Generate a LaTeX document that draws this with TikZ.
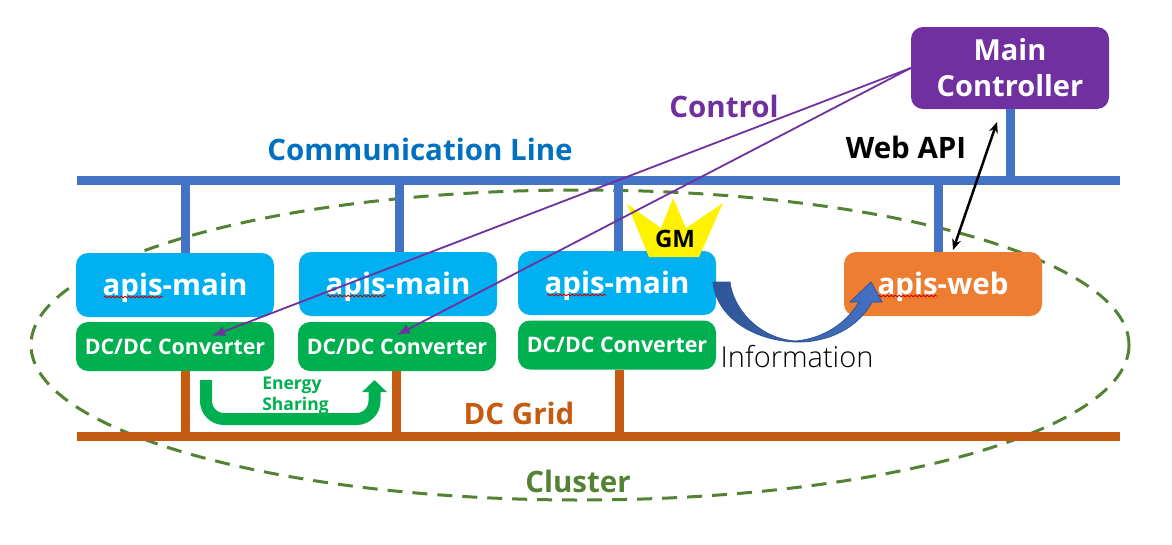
\documentclass[tikz,border=0pt]{standalone}
\usepackage{fontspec}
\setmainfont{Open Sans}
\newfontfamily\infofont{Open Sans Light}
\usetikzlibrary{arrows.meta,calc,decorations.pathmorphing}
\definecolor{figsky}{HTML}{00B0F0}
\definecolor{figgreen}{HTML}{00B050}
\definecolor{figorange}{HTML}{ED7D31}
\definecolor{figpurple}{HTML}{7030A0}
\definecolor{figblue}{HTML}{4472C4}
\definecolor{figlabel}{HTML}{0070C0}
\definecolor{figdark}{HTML}{2F5597}
\definecolor{figrust}{HTML}{C55A11}
\definecolor{figolive}{HTML}{548235}
\tikzset{
  box/.style={rounded corners=12pt,inner sep=0pt,align=center,text=white,font=\bfseries},
  hostbox/.style={box,minimum width=198pt,minimum height=64pt},
  convbox/.style={box,fill=figgreen,minimum width=198pt,minimum height=49pt,font=\fontsize{21.4}{24}\selectfont\bfseries},
  commline/.style={figblue,line width=9pt},
  gridline/.style={figrust,line width=9pt},
  ctrlline/.style={figpurple,line width=1.8pt,-{Latex[length=13pt,width=10pt]}},
  squiggle/.style={red!80!black,line width=.8pt,decorate,decoration={snake,amplitude=.9pt,segment length=4pt}},
  tag/.style={inner sep=0pt,font=\fontsize{29.5}{32}\selectfont\bfseries}
}
\begin{document}
\begin{tikzpicture}[x=1pt,y=-1pt]
    \useasboundingbox (0,0) rectangle (1172,544);
    \draw[figolive,line width=3pt,dash pattern=on 15pt off 10pt] (580,345) ellipse [x radius=549,y radius=155];
    % buses
    \coordinate (commL) at (77,180.5);
    \coordinate (commR) at (1120,180.5);
    \coordinate (gridL) at (77,436);
    \coordinate (gridR) at (1120,436);
    \draw[commline] (commL) -- (commR);
    \draw[gridline] (gridL) -- (gridR);
    % hosts
    \node[hostbox,fill=figsky] (main1) at (175,285) {};
    \node[hostbox,fill=figsky] (main2) at (398,284) {};
    \node[hostbox,fill=figsky] (main3) at (617,283) {};
    \node[hostbox,fill=figorange] (web) at (943,284) {};
    \node[convbox] (conv1) at (175,346.5) {DC/DC Converter};
    \node[convbox] (conv2) at (397,346.5) {DC/DC Converter};
    \node[convbox] (conv3) at (617,345) {DC/DC Converter};
    \node[box,fill=figpurple,minimum width=198pt,minimum height=82pt,font=\fontsize{29}{36}\selectfont\bfseries] (ctrl) at (1010,68) {Main\\Controller};
    % taps on both buses
    \foreach \x/\n in {185/main1,399/main2,618/main3,938/web}
      \draw[commline] (\x,180.5) -- (\x,180.5 |- \n.north);
    \draw[commline] (ctrl.south) -- (ctrl.south |- commL);
    \foreach \x/\n in {185/conv1,396/conv2,619/conv3}
      \draw[gridline] (\x,436) -- (\x,436 |- \n.south);
    % crown
    \fill[yellow] (649,257) -- (627,204) -- (661,228) -- (673,198) -- (686,228) -- (723,203) -- (699,257) -- cycle;
    \node[inner sep=0pt,font=\fontsize{24}{26}\selectfont\bfseries] (gm) at (675,239) {GM};
    % host labels sit above the tap ends
    \node[tag,text=white] (main1txt) at ($(main1)+(0,2.5)$) {apis-main};
    \node[tag,text=white] (main2txt) at ($(main2)+(0,2.5)$) {apis-main};
    \node[tag,text=white] (main3txt) at ($(main3)+(0,2.5)$) {apis-main};
    \node[tag,text=white] (webtxt) at ($(web)+(0,2.5)$) {apis-web};
    \foreach \n/\d in {main1/-71,main2/-71,main3/-70,web/-65}
      \draw[squiggle] ($(\n.center)+(\d,12)$) -- ++(59,0);
    % energy sharing
    \coordinate (shareA) at (206,380);
    \coordinate (shareB) at (374.5,380);
    \draw[figgreen,line width=12pt,rounded corners=18pt,-{Triangle[length=12pt,width=24pt]}] (shareA) -- (206,419) -- (374.5,419) -- (shareB);
    \node[inner sep=0pt,align=left,text=figgreen,font=\fontsize{17.5}{21}\selectfont\bfseries] (share) at (295.5,396) {Energy\\Sharing};
    % information
    \draw[figdark,line width=.8pt,left color=figdark,right color=figblue]
      (713,282) -- (730,282) .. controls (733,308) and (758,338) .. (795,341)
      .. controls (822,339) and (846,324) .. (859,302) -- (850,302) -- (871,282) -- (882,302) -- (872,302)
      .. controls (858,328) and (828,343) .. (795,342) .. controls (750,340) and (716,315) .. (713,282) -- cycle;
    \node[inner sep=0pt,font=\fontsize{29}{32}\selectfont\infofont] (info) at (797,357) {Information};
    % control and web api
    \coordinate (ctrlA) at (212,336);
    \coordinate (ctrlB) at (397,335);
    \draw[ctrlline] (ctrl.west) -- (ctrlA);
    \draw[ctrlline] (ctrl.west) -- (ctrlB);
    \coordinate (apiA) at (997,122);
    \coordinate (apiB) at (953,250);
    \draw[line width=2.5pt,{Stealth[length=11pt,width=9pt]}-{Stealth[length=11pt,width=9pt]}] (apiA) -- (apiB);
    % labels
    \node[tag,text=figlabel] (commtxt) at (420,149) {Communication Line};
    \node[tag,text=figpurple] (ctrltxt) at (724,106) {Control};
    \node[tag] (apitxt) at (906,147) {Web API};
    \node[tag,text=figrust] (gridtxt) at (519,413) {DC Grid};
    \node[tag,text=figolive] (clustertxt) at (578,481) {Cluster};
\end{tikzpicture}
\end{document}
